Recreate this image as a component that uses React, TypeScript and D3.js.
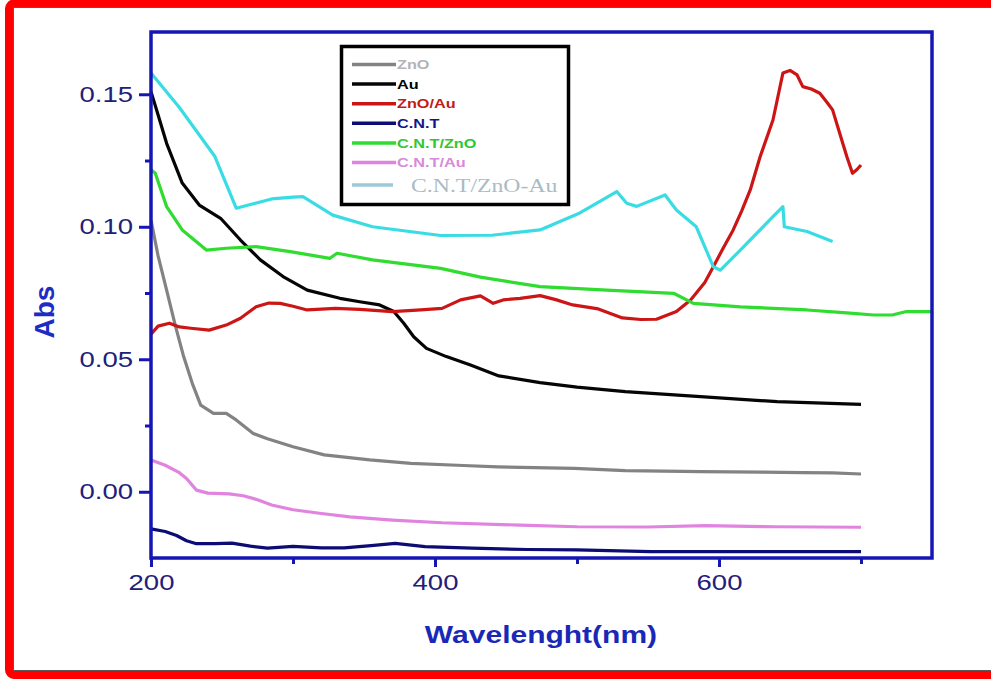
import { useRef, useEffect } from 'react';
import * as d3 from 'd3';

// wavelength (nm) / absorbance pairs
const znoWl = [200, 205, 211, 217, 223, 229, 235, 244, 253, 260, 272, 282, 300, 322, 354, 383, 420, 444, 498, 534, 587, 630, 659, 680, 700];
const znoAbs = [0.1025, 0.089, 0.0761, 0.063, 0.051, 0.041, 0.0327, 0.0296, 0.0296, 0.0271, 0.022, 0.02, 0.017, 0.0139, 0.012, 0.0107, 0.0099, 0.0094, 0.0088, 0.008, 0.0076, 0.0074, 0.0072, 0.0071, 0.0067];

const auWl = [200, 204, 211, 222, 234, 249, 263, 277, 293, 310, 333, 347, 361, 371, 378, 385, 394, 408, 425, 445, 474, 500, 534, 587, 641, 700];
const auAbs = [0.151, 0.144, 0.1315, 0.1165, 0.1082, 0.1032, 0.095, 0.0875, 0.0812, 0.0761, 0.073, 0.0717, 0.0705, 0.068, 0.0636, 0.0585, 0.0541, 0.051, 0.0478, 0.0437, 0.0412, 0.0395, 0.0378, 0.0359, 0.034, 0.033];

const znoAuWl = [200, 205, 213, 220, 228, 241, 253, 263, 274, 283, 291, 300, 310, 330, 347, 370, 390, 405, 418, 432, 441, 448, 460, 474, 485, 497, 515, 532, 545, 556, 570, 580, 590, 596, 603, 610, 616, 622, 629, 638, 645, 650, 655, 659, 665, 671, 676, 680, 685, 690, 694, 697, 700];
const znoAuAbs = [0.0595, 0.0625, 0.0636, 0.0622, 0.0617, 0.061, 0.0629, 0.0655, 0.0698, 0.0712, 0.0711, 0.07, 0.0686, 0.0692, 0.0688, 0.068, 0.0686, 0.0692, 0.0724, 0.0739, 0.0711, 0.0724, 0.073, 0.074, 0.0725, 0.0705, 0.069, 0.0656, 0.065, 0.0651, 0.068, 0.0724, 0.079, 0.0849, 0.092, 0.0988, 0.106, 0.1139, 0.1265, 0.1403, 0.158, 0.159, 0.1573, 0.1529, 0.152, 0.1504, 0.147, 0.1441, 0.1353, 0.1265, 0.1202, 0.1215, 0.1233];

const cntWl = [200, 210, 218, 225, 232, 245, 257, 270, 282, 300, 320, 336, 355, 372, 393, 426, 465, 500, 552, 620, 700];
const cntAbs = [-0.014, -0.015, -0.0165, -0.0185, -0.0196, -0.0196, -0.0194, -0.0205, -0.0213, -0.0206, -0.0212, -0.0212, -0.0203, -0.0195, -0.0207, -0.0213, -0.0218, -0.0219, -0.0226, -0.0226, -0.0226];

const cntZnoWl = [200, 203, 211, 222, 239, 253, 274, 298, 326, 331, 356, 404, 432, 474, 521, 568, 582, 615, 662, 690, 709, 722, 732, 750];
const cntZnoAbs = [0.1215, 0.1202, 0.1076, 0.0988, 0.0912, 0.0919, 0.0925, 0.0906, 0.0881, 0.09, 0.0875, 0.0843, 0.081, 0.0774, 0.0761, 0.0749, 0.0711, 0.0698, 0.0686, 0.0675, 0.0667, 0.0667, 0.068, 0.068];

const cntAuWl = [200, 210, 220, 225, 232, 240, 255, 265, 275, 285, 300, 320, 340, 370, 405, 460, 500, 550, 590, 640, 700];
const cntAuAbs = [0.012, 0.01, 0.0072, 0.005, 0.0006, -0.0005, -0.0008, -0.0015, -0.003, -0.005, -0.0068, -0.0082, -0.0095, -0.0107, -0.0117, -0.0126, -0.0132, -0.0133, -0.0128, -0.0132, -0.0134];

const cntZnoAuWl = [200, 220, 245, 260, 270, 285, 300, 307, 328, 356, 404, 440, 474, 502, 528, 535, 542, 562, 570, 584, 596, 601, 615, 638, 645, 646, 662, 680];
const cntZnoAuAbs = [0.158, 0.145, 0.1265, 0.107, 0.1084, 0.1105, 0.1112, 0.1114, 0.1044, 0.1, 0.0967, 0.0968, 0.0988, 0.1052, 0.1133, 0.1089, 0.1077, 0.112, 0.1063, 0.1, 0.0849, 0.0836, 0.0912, 0.1038, 0.1076, 0.1, 0.0982, 0.0944];

const seriesNames = ['ZnO', 'Au', 'ZnO/Au', 'C.N.T', 'C.N.T/ZnO', 'C.N.T/Au', 'C.N.T/ZnO-Au'];
const yMajorTicks = [0, 0.05, 0.1, 0.15];
const yMinorTicks = [0.025, 0.075, 0.125];
const xMajorTicks = [200, 400, 600];
const xMinorTicks = [300, 500, 700];

const W = 991;
const H = 679;
const AXIS_BLUE = '#1616b4';
const STRETCH = 1.25; // the source picture is widened horizontally

const SpectraChart = () => {
    const svgRef = useRef<SVGSVGElement | null>(null);

    useEffect(() => {
        const svgElement = svgRef.current;
        if (!svgElement) return;
        const svg = d3.select(svgElement);
        svg.selectAll('*').remove();

        const stretch = (sel: d3.Selection<any, any, any, any>) =>
            sel.each(function (this: SVGTextElement) {
                const len = this.getComputedTextLength();
                this.setAttribute('textLength', String(len * STRETCH));
                this.setAttribute('lengthAdjust', 'spacingAndGlyphs');
            });

        const series = [
            { wl: znoWl, abs: znoAbs, color: '#838383', text: '#b4b4b4' },
            { wl: auWl, abs: auAbs, color: '#050505', text: '#000000' },
            { wl: znoAuWl, abs: znoAuAbs, color: '#cc1616', text: '#c41a1a' },
            { wl: cntWl, abs: cntAbs, color: '#0c0c74', text: '#14148a' },
            { wl: cntZnoWl, abs: cntZnoAbs, color: '#2fdc2f', text: '#2ec82e' },
            { wl: cntAuWl, abs: cntAuAbs, color: '#e084e0', text: '#d68ad8' },
            { wl: cntZnoAuWl, abs: cntZnoAuAbs, color: '#3adce4', text: '#a9bcc4' },
        ].map((s, i) => ({ ...s, name: seriesNames[i] }));

        const margin = { top: 32, right: W - 932, bottom: H - 558, left: 151 };

        const x = d3.scaleLinear()
            .domain([200, 750])
            .range([margin.left, W - margin.right]);

        const y = d3.scaleLinear()
            .domain([-0.025, 0.1735])
            .range([H - margin.bottom, margin.top]);

        // page background + red outer frame
        svg.append('rect').attr('width', W).attr('height', H).attr('fill', '#ffffff');
        svg.append('rect')
            .attr('x', 9).attr('y', 3.5)
            .attr('width', W + 20).attr('height', 671.5)
            .attr('rx', 5)
            .attr('fill', 'none')
            .attr('stroke', '#ff0000')
            .attr('stroke-width', 8);
        svg.append('rect')
            .attr('x', 13.5).attr('y', 7.5)
            .attr('width', W + 20).attr('height', 663)
            .attr('fill', 'none')
            .attr('stroke', '#5a5a5a')
            .attr('stroke-width', 1);

        // curves
        const line = d3.line<[number, number]>()
            .x(d => x(d[0]))
            .y(d => y(d[1]));

        series.forEach(s => {
            svg.append('path')
                .datum(s.wl.map((w, i) => [w, s.abs[i]] as [number, number]))
                .attr('fill', 'none')
                .attr('stroke', s.color)
                .attr('stroke-width', 3.2)
                .attr('stroke-linejoin', 'round')
                .attr('d', line);
        });

        // axes
        const tickFont = (g: d3.Selection<SVGGElement, unknown, null, undefined>) => {
            g.select('.domain').remove();
            g.selectAll('line').attr('stroke', AXIS_BLUE).attr('stroke-width', 3);
            g.selectAll('text')
                .attr('fill', '#20207a')
                .style('font-family', '"Liberation Sans", Arial, sans-serif')
                .style('font-size', '22px');
        };

        const yAxis = svg.append('g')
            .attr('transform', `translate(${margin.left}, 0)`)
            .call(d3.axisLeft(y).tickValues(yMajorTicks).tickFormat(d3.format('.2f')).tickSize(12).tickPadding(6))
            .call(tickFont);
        svg.append('g')
            .attr('transform', `translate(${margin.left}, 0)`)
            .call(d3.axisLeft(y).tickValues(yMinorTicks).tickFormat(() => '').tickSize(6))
            .call(tickFont);

        const xAxis = svg.append('g')
            .attr('transform', `translate(0, ${H - margin.bottom})`)
            .call(d3.axisBottom(x).tickValues(xMajorTicks).tickFormat(d3.format('d')).tickSize(9).tickPadding(7))
            .call(tickFont);
        svg.append('g')
            .attr('transform', `translate(0, ${H - margin.bottom})`)
            .call(d3.axisBottom(x).tickValues(xMinorTicks).tickFormat(() => '').tickSize(6))
            .call(tickFont);

        stretch(yAxis.selectAll('text'));
        stretch(xAxis.selectAll('text'));

        // plot frame
        svg.append('rect')
            .attr('x', margin.left)
            .attr('y', margin.top)
            .attr('width', W - margin.right - margin.left)
            .attr('height', H - margin.bottom - margin.top)
            .attr('fill', 'none')
            .attr('stroke', AXIS_BLUE)
            .attr('stroke-width', 3.5);

        // axis titles
        svg.append('text')
            .attr('transform', `translate(54, 312) rotate(-90)`)
            .attr('text-anchor', 'middle')
            .style('font-family', '"Liberation Sans", Arial, sans-serif')
            .style('font-weight', 'bold')
            .style('font-size', '28px')
            .attr('fill', '#1c2cc4')
            .text('Abs');

        const xTitle = svg.append('text')
            .attr('x', 541)
            .attr('y', 643)
            .attr('text-anchor', 'middle')
            .style('font-family', '"Liberation Sans", Arial, sans-serif')
            .style('font-weight', 'bold')
            .style('font-size', '24px')
            .attr('fill', '#1a28b8')
            .text('Wavelenght(nm)');
        stretch(xTitle);

        // legend
        const legend = svg.append('g');
        legend.append('rect')
            .attr('x', 341.5).attr('y', 46.5)
            .attr('width', 227).attr('height', 158)
            .attr('fill', '#ffffff')
            .attr('stroke', '#000000')
            .attr('stroke-width', 3.5);

        const rowY = d3.scaleLinear().domain([0, 1]).range([64.5, 84.1]);
        series.forEach((s, i) => {
            const last = i === series.length - 1;
            const cy = rowY(i) + (last ? 3 : 0);
            legend.append('line')
                .attr('x1', 352).attr('x2', last ? 393 : 396)
                .attr('y1', cy).attr('y2', cy)
                .attr('stroke', last ? '#9ccad8' : s.color)
                .attr('stroke-width', 3.5);
            const t = legend.append('text')
                .attr('x', last ? 411 : 397)
                .attr('y', cy)
                .attr('dy', '0.36em')
                .attr('fill', s.text)
                .style('font-family', last ? '"Liberation Serif", "Times New Roman", serif' : '"Liberation Sans", Arial, sans-serif')
                .style('font-weight', last ? 'normal' : 'bold')
                .style('font-size', last ? '19px' : '13px')
                .text(s.name);
            stretch(t);
        });
    }, []);

    return (
        <svg ref={svgRef} width={W} height={H}
            style={{ position: 'absolute', left: 0, top: 0, display: 'block' }} />
    );
};

export default function App() {
    return <SpectraChart />;
}
